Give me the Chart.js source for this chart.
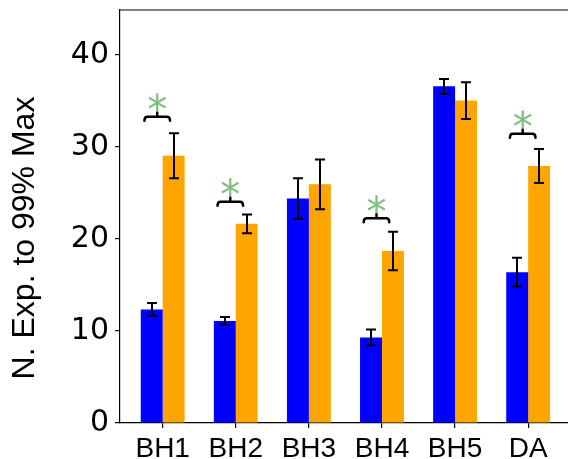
<!DOCTYPE html>
<html>
<head>
<meta charset="utf-8">
<script src="https://cdn.jsdelivr.net/npm/chart.js@4"></script>
<style>
  html,body{margin:0;padding:0;background:#fff;overflow:hidden}
</style>
</head>
<body>
<canvas id="c" width="568" height="459"></canvas>
<script>
// === Data ===
const categories = ['BH1','BH2','BH3','BH4','BH5','DA'];
const blueVals   = [12.35, 11.1, 24.4, 9.3, 36.6, 16.4];
const blueErr    = [0.7, 0.43, 2.2, 0.87, 0.8, 1.57];
const orangeVals = [29.05, 21.65, 25.95, 18.7, 35.05, 27.95];
const orangeErr  = [2.45, 1.02, 2.7, 2.1, 2.0, 1.85];
const sigLevel   = [33.3, 24.05, null, 22.25, null, 31.45]; // bracket height, null = no star
const yTicks     = [0, 10, 20, 30, 40];

const toXY = vals => vals.map((v,i)=>({x:i, y:v}));

// === Plugins ===
const errorBars = {
  id:'errorBars',
  afterDatasetsDraw(chart){
    const ctx=chart.ctx, ys=chart.scales.y;
    const errs=[blueErr, orangeErr], vals=[blueVals, orangeVals];
    ctx.save(); ctx.strokeStyle='#000'; ctx.lineWidth=2; ctx.lineCap='butt';
    [0,1].forEach(d=>{
      chart.getDatasetMeta(d).data.forEach((el,i)=>{
        const x=Math.round(el.x);
        const t=ys.getPixelForValue(vals[d][i]+errs[d][i]);
        const b=ys.getPixelForValue(vals[d][i]-errs[d][i]);
        ctx.beginPath();
        ctx.moveTo(x,t); ctx.lineTo(x,b);
        ctx.moveTo(x-5,t); ctx.lineTo(x+5,t);
        ctx.moveTo(x-5,b); ctx.lineTo(x+5,b);
        ctx.stroke();
      });
    });
    ctx.restore();
  }
};

const sigMarks = {
  id:'sigMarks',
  afterDatasetsDraw(chart){
    const ctx=chart.ctx, xs=chart.scales.x, ys=chart.scales.y;
    ctx.save();
    sigLevel.forEach((lv,i)=>{
      if(lv==null) return;
      const xc=xs.getPixelForValue(i-0.075);
      const x1=xs.getPixelForValue(i-0.25), x2=xs.getPixelForValue(i+0.1);
      const y=ys.getPixelForValue(lv);
      ctx.strokeStyle='#000'; ctx.lineWidth=2.5; ctx.lineCap='round'; ctx.lineJoin='round';
      ctx.beginPath();
      ctx.moveTo(x1,y+4); ctx.quadraticCurveTo(x1,y,x1+3,y);
      ctx.lineTo(x2-3,y); ctx.quadraticCurveTo(x2,y,x2,y+4);
      ctx.moveTo(xc,y); ctx.lineTo(xc,y-4);
      ctx.stroke();
      // star
      ctx.font='40px "DejaVu Sans"'; ctx.fillStyle='rgba(0,128,0,0.5)';
      ctx.textAlign='center'; ctx.textBaseline='alphabetic';
      const m=ctx.measureText('*');
      const cy=y-14;
      ctx.fillText('*', xc, cy+(m.actualBoundingBoxAscent-m.actualBoundingBoxDescent)/2);
    });
    ctx.restore();
  }
};

const frame = {
  id:'frame',
  afterDraw(chart){
    const ctx=chart.ctx, a=chart.chartArea;
    ctx.save();
    ctx.strokeStyle='#000'; ctx.lineWidth=1.2;
    ctx.beginPath(); ctx.moveTo(a.left,a.top); ctx.lineTo(a.right,a.top); ctx.stroke();
    // y axis title
    ctx.font='32px "Liberation Sans"'; ctx.fillStyle='#000';
    ctx.textAlign='center'; ctx.textBaseline='middle';
    ctx.translate(25,238); ctx.rotate(-Math.PI/2);
    ctx.fillText('N. Exp. to 99% Max',0,0);
    ctx.restore();
  }
};

// === Chart ===
new Chart(document.getElementById('c'), {
  type:'bar',
  data:{
    datasets:[
      {data:toXY(blueVals), backgroundColor:'#0000ff', borderWidth:0},
      {data:toXY(orangeVals), backgroundColor:'#ffa500', borderWidth:0}
    ]
  },
  options:{
    responsive:false, animation:false, devicePixelRatio:1,
    layout:{padding:{top:10,left:0,right:0,bottom:0}},
    plugins:{legend:{display:false}, tooltip:{enabled:false}},
    datasets:{bar:{categoryPercentage:0.6, barPercentage:1.0}},
    scales:{
      x:{
        type:'linear', min:-0.584, max:5.545, offset:false,
        afterFit(s){ s.height=36; s.paddingLeft=0; s.paddingRight=0; },
        afterBuildTicks(s){ s.ticks=categories.map((c,i)=>({value:i})); },
        ticks:{ callback:v=>categories[v], color:'#000', padding:4, maxRotation:0, autoSkip:false,
                font:{family:'"Liberation Sans"', size:28} },
        grid:{offset:false, drawOnChartArea:false, drawTicks:true, tickLength:5, color:'#000', lineWidth:1.2},
        border:{display:true, color:'#000', width:1.2}
      },
      y:{
        min:0, max:44.9,
        afterFit(s){ s.width=120; s.paddingTop=0; s.paddingBottom=0; },
        afterBuildTicks(s){ s.ticks=yTicks.map(v=>({value:v})); },
        ticks:{ color:'#000', padding:6, font:{family:'"DejaVu Sans"', size:30} },
        grid:{drawOnChartArea:false, drawTicks:true, tickLength:5, color:'#000', lineWidth:1.2},
        border:{display:true, color:'#000', width:1.2}
      }
    }
  },
  plugins:[errorBars, sigMarks, frame]
});
</script>
</body>
</html>
